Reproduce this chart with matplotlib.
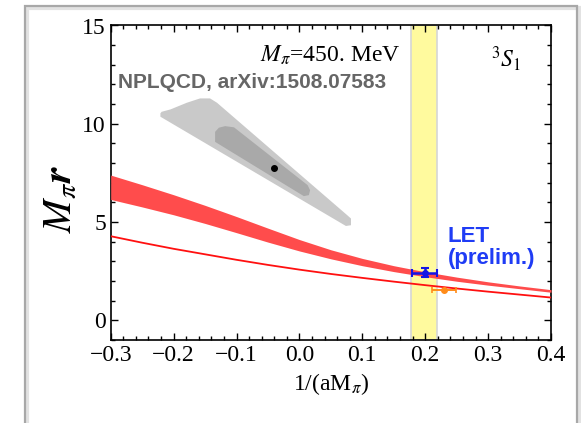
import matplotlib
matplotlib.use("Agg")
import matplotlib.pyplot as plt
from matplotlib.patches import Polygon, Rectangle
from matplotlib.ticker import MultipleLocator
import numpy as np

plt.rcParams["font.family"] = ["Liberation Serif", "DejaVu Serif"]
plt.rcParams["mathtext.fontset"] = "stix"

# grid of 1/(a M_pi) values where the curves were sampled
x_grid = [-0.30, -0.25, -0.20, -0.15, -0.10, -0.05, 0.00, 0.05,
          0.10, 0.15, 0.20, 0.25, 0.30, 0.35, 0.40]

# red band (upper / lower edge)
band_hi = [7.39, 6.90, 6.39, 5.85, 5.28, 4.69, 4.11, 3.59,
           3.15, 2.78, 2.47, 2.20, 1.96, 1.75, 1.56]
band_lo = [6.15, 5.77, 5.37, 4.93, 4.46, 3.98, 3.53, 3.13,
           2.78, 2.48, 2.22, 1.99, 1.79, 1.61, 1.43]

# thin red curve
line_r = [4.28, 3.95, 3.64, 3.36, 3.08, 2.82, 2.58, 2.36,
          2.16, 1.97, 1.79, 1.62, 1.46, 1.31, 1.16]

# NPLQCD confidence regions (outer / inner) and central value
outer_x = [-0.221, -0.219, -0.205, -0.179, -0.158, -0.142, -0.131,
           0.076, 0.082, 0.082, 0.074, -0.221]
outer_y = [10.53, 10.61, 10.73, 11.07, 11.29, 11.29, 11.07,
           5.35, 5.18, 4.84, 4.80, 10.36]
inner_x = [-0.134, -0.128, -0.118, -0.104, 0.013, 0.017, 0.015, 0.007, -0.134]
inner_y = [9.59, 9.80, 9.88, 9.82, 6.88, 6.62, 6.37, 6.32, 9.08]
npl_x, npl_y = -0.040, 7.76

# lattice spacing band
band_x0, band_x1 = 0.178, 0.218

# LET points
let_x, let_y = 0.199, 2.43
let_xerr, let_yerr = 0.020, 0.22
orn_x, orn_y = 0.230, 1.56
orn_xerr = 0.019

fig = plt.figure(figsize=(5.81, 4.23), dpi=100)

# outer panel frame with a soft shadow
fig.patches.append(Rectangle((27 / 581, -0.05), 552 / 581, (423 - 8) / 423 + 0.05,
                             transform=fig.transFigure, fill=False,
                             edgecolor="#e2e2e2", lw=3.0, zorder=0))
fig.patches.append(Rectangle((25 / 581, -0.05), 552 / 581, (423 - 6) / 423 + 0.05,
                             transform=fig.transFigure, fill=False,
                             edgecolor="#a8a8a8", lw=1.6, zorder=1))

ax = fig.add_axes([110.7 / 581, 83 / 423, 440.3 / 581, 314.5 / 423])

ax.axvspan(band_x0, band_x1, facecolor="#fffa9e", edgecolor="#d6d6d6",
           lw=1.2, zorder=1)

ax.add_patch(Polygon(np.column_stack([outer_x, outer_y]), closed=True,
                     facecolor="#c9c9c9", edgecolor="none", zorder=2))
ax.add_patch(Polygon(np.column_stack([inner_x, inner_y]), closed=True,
                     facecolor="#a9a9a9", edgecolor="none", zorder=3))
ax.plot(npl_x, npl_y, "o", color="black", ms=4, zorder=4)

ax.fill_between(x_grid, band_lo, band_hi, color="#ff4c4c", lw=0, zorder=3)
ax.plot(x_grid, line_r, color="#ff1010", lw=1.3, zorder=4)

ax.errorbar(orn_x, orn_y, xerr=orn_xerr, fmt="o", color="#ff8c1a", ms=4,
            elinewidth=1.4, capsize=2.5, capthick=1.2, zorder=5)
ax.errorbar(let_x, let_y, xerr=let_xerr, yerr=let_yerr, fmt="o", color="#1414e6",
            ms=4, elinewidth=1.8, capsize=3, capthick=1.5, zorder=6)

ax.text(0.16, 13.5, r"$M_\pi$=450. MeV", fontsize=17, ha="right", va="center")
ax.text(0.352, 13.3, r"$^3S_1$", fontsize=17, ha="right", va="center")
ax.text(-0.289, 12.1, "NPLQCD, arXiv:1508.07583", fontsize=15, fontweight="bold",
        family=["Liberation Sans", "DejaVu Sans"], color="#666666",
        ha="left", va="center")
ax.text(0.236, 3.72, "LET\n(prelim.)", fontsize=16, fontweight="bold",
        family=["Liberation Sans", "DejaVu Sans"], color="#1f3cf5",
        ha="left", va="center", linespacing=1.05)

ax.set_xlim(-0.3, 0.4)
ax.set_ylim(-1, 15)
ax.xaxis.set_major_locator(MultipleLocator(0.1))
ax.xaxis.set_minor_locator(MultipleLocator(0.02))
ax.yaxis.set_major_locator(MultipleLocator(5))
ax.yaxis.set_minor_locator(MultipleLocator(1))
ax.xaxis.set_major_formatter(lambda v, p: f"{v:.1f}".replace("-", "\u2212"))
ax.tick_params(which="both", direction="in", top=True, right=True,
               labelsize=17, width=1.0)
ax.tick_params(which="major", length=5)
ax.tick_params(which="minor", length=3)
for s in ax.spines.values():
    s.set_linewidth(1.2)

ax.set_xlabel(r"1/(aM$_\pi$)", fontsize=17, labelpad=4)
ax.set_ylabel(r"$\boldsymbol{M_\pi r}$", fontsize=29, va="center")
ax.yaxis.set_label_coords(-0.112, 0.447)

fig.savefig("out.png", dpi=100)
